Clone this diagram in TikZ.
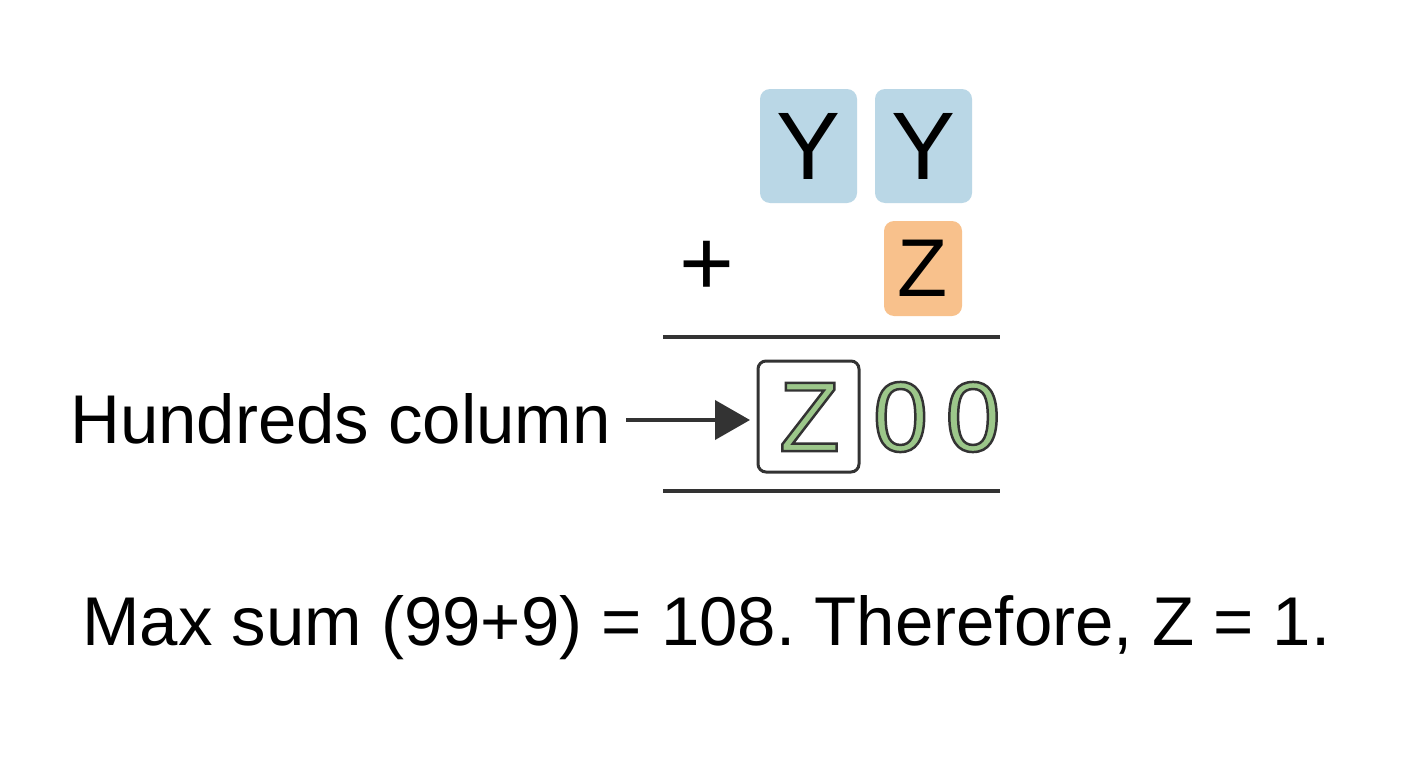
\documentclass[tikz,border=0pt]{standalone}
\usepackage{fontspec}
\setmainfont{Liberation Sans}
\newfontfamily\outfont[FakeBold=2.5]{Liberation Sans}
\usetikzlibrary{arrows.meta}
\definecolor{boxblue}{HTML}{BAD7E6}
\definecolor{boxorange}{HTML}{F8C18C}
\definecolor{letgreen}{HTML}{9CC78A}
\definecolor{ink}{HTML}{333333}
\tikzset{
  tile/.style={rounded corners=10pt, inner sep=0pt, minimum width=97pt, minimum height=114pt},
  bigtext/.style={inner sep=0pt, anchor=base west, font=\fontsize{69}{80}\selectfont},
  rule/.style={draw=ink, line width=4pt},
  outl/.style={inner sep=0pt, font=\outfont\fontsize{99}{110}\selectfont},
}
\newcommand{\outlined}[1]{{\color{letgreen}\special{pdf:code 0.2 0.2 0.2 RG}#1}}
\frenchspacing
\begin{document}
\begin{tikzpicture}[x=1pt,y=-1pt]
\useasboundingbox (0,0) rectangle (1408,768);
\fill[white] (0,0) rectangle (1408,768);
% top addend
\node[tile, fill=boxblue, font=\fontsize{96}{100}\selectfont] (y1) at (808.5,146) {Y};
\node[tile, fill=boxblue, font=\fontsize{96}{100}\selectfont] (y2) at (923.5,146) {Y};
% second addend
\node[tile, fill=boxorange, minimum width=78pt, minimum height=95pt, font=\fontsize{82}{90}\selectfont] (z1) at (923,268.5) {Z};
\node[inner sep=0pt, font=\fontsize{94}{100}\selectfont] (plus) at (707,268) {+};
% rules
\coordinate (l1a) at (663,337); \coordinate (l1b) at (1000,337);
\draw[rule] (l1a) -- (l1b);
\coordinate (l2a) at (663,491); \coordinate (l2b) at (1000,491);
\draw[rule] (l2a) -- (l2b);
% result
\node[draw=ink, line width=3pt, rounded corners=8pt, minimum width=101pt, minimum height=111pt, inner sep=0pt] (zbox) at (808.5,416.5) {};
\node[outl] (zr) at (809.5,417) {\outlined{Z}};
\node[outl] (o1) at (900.5,417) {\outlined{0}};
\node[outl] (o2) at (973,417) {\outlined{0}};
% label and arrow
\node[bigtext] (lab) at (70,443) {Hundreds column};
\coordinate (as) at (626,420);
\coordinate (ae) at (750,420);
\draw[ink, line width=4pt, -{Triangle[length=35pt,width=39pt]}] (as) -- (ae);
% bottom text
\node[bigtext] (concl) at (82,645) {Max sum (99+9) = 108. Therefore, Z = 1.};
\end{tikzpicture}
\end{document}
